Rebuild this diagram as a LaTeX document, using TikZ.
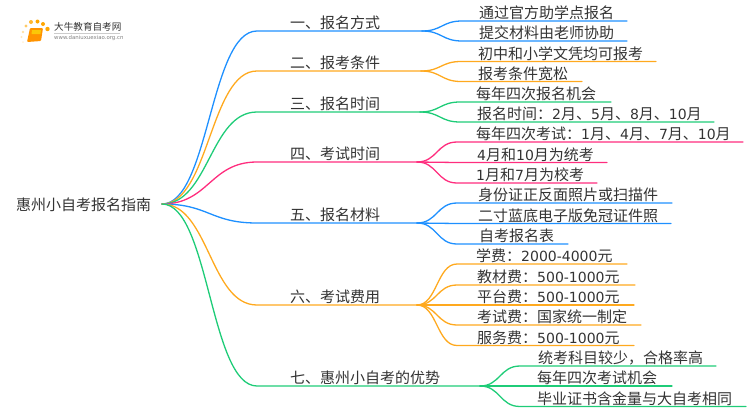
\documentclass[tikz,border=0pt]{standalone}
\usepackage{fontspec}
\usepackage{xcolor}
\newfontfamily\cjk{Noto Sans CJK SC}
\newfontfamily\latf{DejaVu Sans}
\newcommand{\dg}[1]{{\latf\fontsize{14}{18}\selectfont #1}}
\definecolor{nblue}{HTML}{1E90FF}
\definecolor{norange}{HTML}{FFA91E}
\definecolor{ngreen}{HTML}{1FCC78}
\definecolor{npink}{HTML}{FF2D7E}
\definecolor{ntext}{HTML}{333333}
\tikzset{
	textlabel/.style={anchor=west,inner sep=0pt,text=ntext,font=\cjk\fontsize{15}{18}\selectfont},
	limb/.style={line width=1.3pt,line cap=round}
}
\begin{document}
\begin{tikzpicture}[x=1pt,y=-1pt]
		\useasboundingbox (0,0) rectangle (750,410);
		% 中心节点
		\node[textlabel] (root) at (16,204.5) {惠州小自考报名指南};
		\coordinate (hub) at (162,204);
		% 绘制主干
		\foreach \id/\yy/\xe/\cc/\txt in {
			a/31/422/nblue/{一、报名方式},
			b/71/421/norange/{二、报考条件},
			c/112/420/ngreen/{三、报名时间},
			d/162/417/npink/{四、考试时间},
			e/223/417/nblue/{五、报名材料},
			f/305/417/norange/{六、考试费用},
			g/386/480/ngreen/{七、惠州小自考的优势}}
		{
			\coordinate (\id s) at (257,\yy);
			\coordinate (\id e) at (\xe,\yy);
			\node[textlabel] (\id) at (290,\yy-8.2) {\txt};
			\draw[limb,\cc] (hub) .. controls +(47,0) and +(-47,0) .. (\id s) -- (\id e);
		}
		% 绘制分支
		\foreach \id/\pid/\yy/\xs/\xt/\xe/\cc/\txt in {
			a1/a/21/462/479/627/nblue/{通过官方助学点报名},
			a2/a/41/462/479/627/nblue/{提交材料由老师协助},
			b1/b/61.5/461/478/656/norange/{初中和小学文凭均可报考},
			b2/b/81.5/461/478/582/norange/{报考条件宽松},
			c1/c/102/460/476/611/ngreen/{每年四次报名机会},
			c2/c/122/460/477/714/ngreen/{报名时间：\dg{2}月、\dg{5}月、\dg{8}月、\dg{10}月},
			d1/d/142/457/476/743/npink/{每年四次考试：\dg{1}月、\dg{4}月、\dg{7}月、\dg{10}月},
			d2/d/162.5/457/477/607/npink/{\dg{4}月和\dg{10}月为统考},
			d3/d/183/457/476/597/npink/{\dg{1}月和\dg{7}月为校考},
			e1/e/203/457/478/672/nblue/{身份证正反面照片或扫描件},
			e2/e/223.5/457/478/671/nblue/{二寸蓝底电子版免冠证件照},
			e3/e/244/457/479/568/nblue/{自考报名表},
			f1/f/264/457/476/627/norange/{学费：\dg{2000-4000}元},
			f2/f/285/457/477/635/norange/{教材费：\dg{500-1000}元},
			f3/f/305/457/477/634/norange/{平台费：\dg{500-1000}元},
			f4/f/325/457/477/641/norange/{考试费：国家统一制定},
			f5/f/345.5/457/477/634/norange/{服务费：\dg{500-1000}元},
			g1/g/366/520/538/716/ngreen/{统考科目较少，合格率高},
			g2/g/386/520/537/672/ngreen/{每年四次考试机会},
			g3/g/406.5/520/537/746/ngreen/{毕业证书含金量与大自考相同}}
		{
			\coordinate (\id s) at (\xs,\yy);
			\coordinate (\id e) at (\xe,\yy);
			\node[textlabel] (\id) at (\xt,\yy-7.8) {\txt};
			\draw[limb,\cc] (\pid e) .. controls +(20,0) and +(-20,0) .. (\id s) -- (\id e);
		}
		% 绘制标志
		\foreach \px/\py/\pr/\po in {23/32/1.3/35,21.5/37/1.2/25,23/42/1/15,26/26/1.7/60,31/22/2/80,37.5/21.5/2/100,43/24/2/100,47.5/29/2.2/100}
			\fill[orange!70!yellow,opacity=\po/100] (\px,\py) circle (\pr);
		\fill[orange!85!yellow,rounded corners=1pt] (30,28) -- (43,28) -- (41,41) -- (27,42) -- cycle;
		\fill[yellow!60!orange] (32,30) -- (41,30) -- (40.5,34) -- (31.5,34) -- cycle;
		\node[inner sep=0pt,anchor=west,text=ntext,font=\cjk\fontsize{9.6}{11}\selectfont] (logo) at (54,27) {大牛教育自考网};
		\draw[gray!40,line width=0.5pt] (54,33.5) -- (120,33.5);
		\node[inner sep=0pt,anchor=west,text=gray,font=\latf\fontsize{5.4}{7}\selectfont] (url) at (54,38.5) {www.daniuxuexiao.org.cn};
	\end{tikzpicture}
\end{document}
